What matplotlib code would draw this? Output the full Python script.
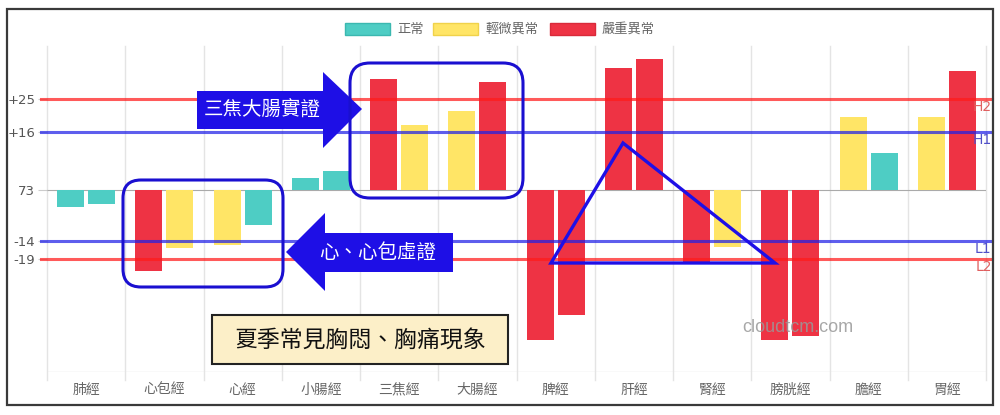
#!/usr/bin/env python3

import matplotlib

matplotlib.use("Agg")
import matplotlib.pyplot as plt
import numpy as np
from matplotlib.patches import FancyBboxPatch, Polygon, Rectangle

plt.rcParams["font.family"] = ["Noto Sans CJK TC", "DejaVu Sans"]

# data
categories = ["肺經", "心包經", "心經", "小腸經", "三焦經", "大腸經",
              "脾經", "肝經", "腎經", "膀胱經", "膽經", "胃經"]
left_values = [-4.7, -22.4, -15.1, 3.4, 30.6, 21.8, -41.5, 33.6, -19.8, -41.4, 20.1, 20.2]
right_values = [-3.8, -15.9, -9.6, 5.3, 17.9, 29.8, -34.5, 36.1, -15.8, -40.2, 10.2, 32.8]
# 0 = 正常, 1 = 輕微異常, 2 = 嚴重異常
left_status = [0, 2, 1, 0, 2, 1, 2, 2, 2, 2, 1, 1]
right_status = [0, 1, 0, 0, 1, 2, 2, 2, 1, 2, 0, 2]
status_labels = ["正常", "輕微異常", "嚴重異常"]

tick_values = [25, 16, 0, -14, -19]
tick_labels = ["+25", "+16", "73", "-14", "-19"]

limit_values = [25, 16, -14, -19]
limit_names = ["H2", "H1", "L1", "L2"]

status_colors = ["#4ECDC4", "#FFE566", "#EE3344"]
status_edges = ["#3bb8b0", "#f0d24a", "#d92a3a"]
limit_colors = ["#ff1a1a", "#2020e6", "#2020e6", "#ff1a1a"]
label_colors = ["#e06060", "#5050c8", "#5050c8", "#e06060"]
blue = "#1E0FE6"

fig = plt.figure(figsize=(10, 4.15), dpi=100)
ax = fig.add_axes([0.047, 1 - 372 / 415, 0.939, 326 / 415])

x = np.arange(len(categories))
offset = 0.198
width = 0.345
ax.bar(x - offset, left_values, width, color=[status_colors[s] for s in left_status], zorder=2)
ax.bar(x + offset, right_values, width, color=[status_colors[s] for s in right_status], zorder=2)

ax.set_xlim(-0.5, len(categories) - 0.5)
ax.set_ylim(-50.2, 39.75)

# grid
for b in np.arange(-0.5, len(categories), 1.0):
    ax.axvline(b, ymin=-0.025, ymax=1, color="#e4e4e4", lw=1, zorder=1, clip_on=False)
ax.axhline(0, color="#aaaaaa", lw=0.8, zorder=1)
ax.axhline(-50.2, color="#e4e4e4", lw=1, zorder=1)

# limit lines
for val, name, col, lcol in zip(limit_values, limit_names, limit_colors, label_colors):
    ax.axhline(val, xmin=-0.006, xmax=1.006, color=col, lw=2.2, alpha=0.72,
               zorder=3, clip_on=False)
    ax.annotate(name, xy=(1.006, val), xycoords=("axes fraction", "data"),
                xytext=(0, -8), textcoords="offset pixels", ha="right", va="center",
                fontsize=10, color=lcol, family="DejaVu Sans", annotation_clip=False)

ax.set_yticks(tick_values)
ax.set_yticklabels(tick_labels, family="DejaVu Sans")
ax.set_xticks(x)
ax.set_xticklabels(categories)
ax.tick_params(axis="y", length=6.5, width=0.8, color="#cccccc", pad=2,
               labelsize=9.5, labelcolor="#555555")
ax.tick_params(axis="x", length=0, pad=8, labelsize=10, labelcolor="#666666")
for sp in ax.spines.values():
    sp.set_visible(False)

# overlay in pixel units for legend and hand-drawn notes
ov = fig.add_axes([0, 0, 1, 1], zorder=10)
ov.set_xlim(0, 1000)
ov.set_ylim(415, 0)
ov.axis("off")
ov.patch.set_alpha(0)

ov.add_patch(Rectangle((7, 9), 986, 396, fill=False, ec="#3a3a3a", lw=1.6))

# legend
legend_x = [345, 433, 550]
for lx, lab, col, ecol in zip(legend_x, status_labels, status_colors, status_edges):
    ov.add_patch(Rectangle((lx, 23), 45, 12, fc=col, ec=ecol, lw=1))
    ov.text(lx + 52, 29, lab, fontsize=9.5, color="#666666", va="center", ha="left")

# arrows
ov.add_patch(Polygon([(197, 91), (323, 91), (323, 72), (362, 109), (323, 148),
                      (323, 129), (197, 129)], closed=True, fc=blue, ec="none"))
ov.text(262, 110, "三焦大腸實證", color="white", fontsize=14, ha="center", va="center")

ov.add_patch(Polygon([(286, 252), (325, 213), (325, 233), (453, 233), (453, 272),
                      (325, 272), (325, 291)], closed=True, fc=blue, ec="none"))
ov.text(378, 252, "心、心包虛證", color="white", fontsize=14, ha="center", va="center")

# rounded boxes
ov.add_patch(FancyBboxPatch((350, 63), 173, 135, boxstyle="round,pad=0,rounding_size=20",
                            fill=False, ec="#1a0fd0", lw=2.2))
ov.add_patch(FancyBboxPatch((123, 180), 160, 107, boxstyle="round,pad=0,rounding_size=18",
                            fill=False, ec="#1a0fd0", lw=2.2))

# triangle
ov.add_patch(Polygon([(623, 143), (551, 263), (775, 263)], closed=True, fill=False,
                     ec=blue, lw=2.4, joinstyle="miter"))

# note box
ov.add_patch(Rectangle((212, 315), 296, 49, fc="#FCEFC8", ec="#222222", lw=1.5))
ov.text(360, 340, "夏季常見胸悶、胸痛現象", fontsize=16.5, color="#111111",
        ha="center", va="center")

ov.text(742, 327, "cloudtcm.com", fontsize=13, color="#999999", alpha=0.85,
        family="Liberation Sans", ha="left", va="center")

fig.savefig("out.png", dpi=100)
plt.close(fig)
